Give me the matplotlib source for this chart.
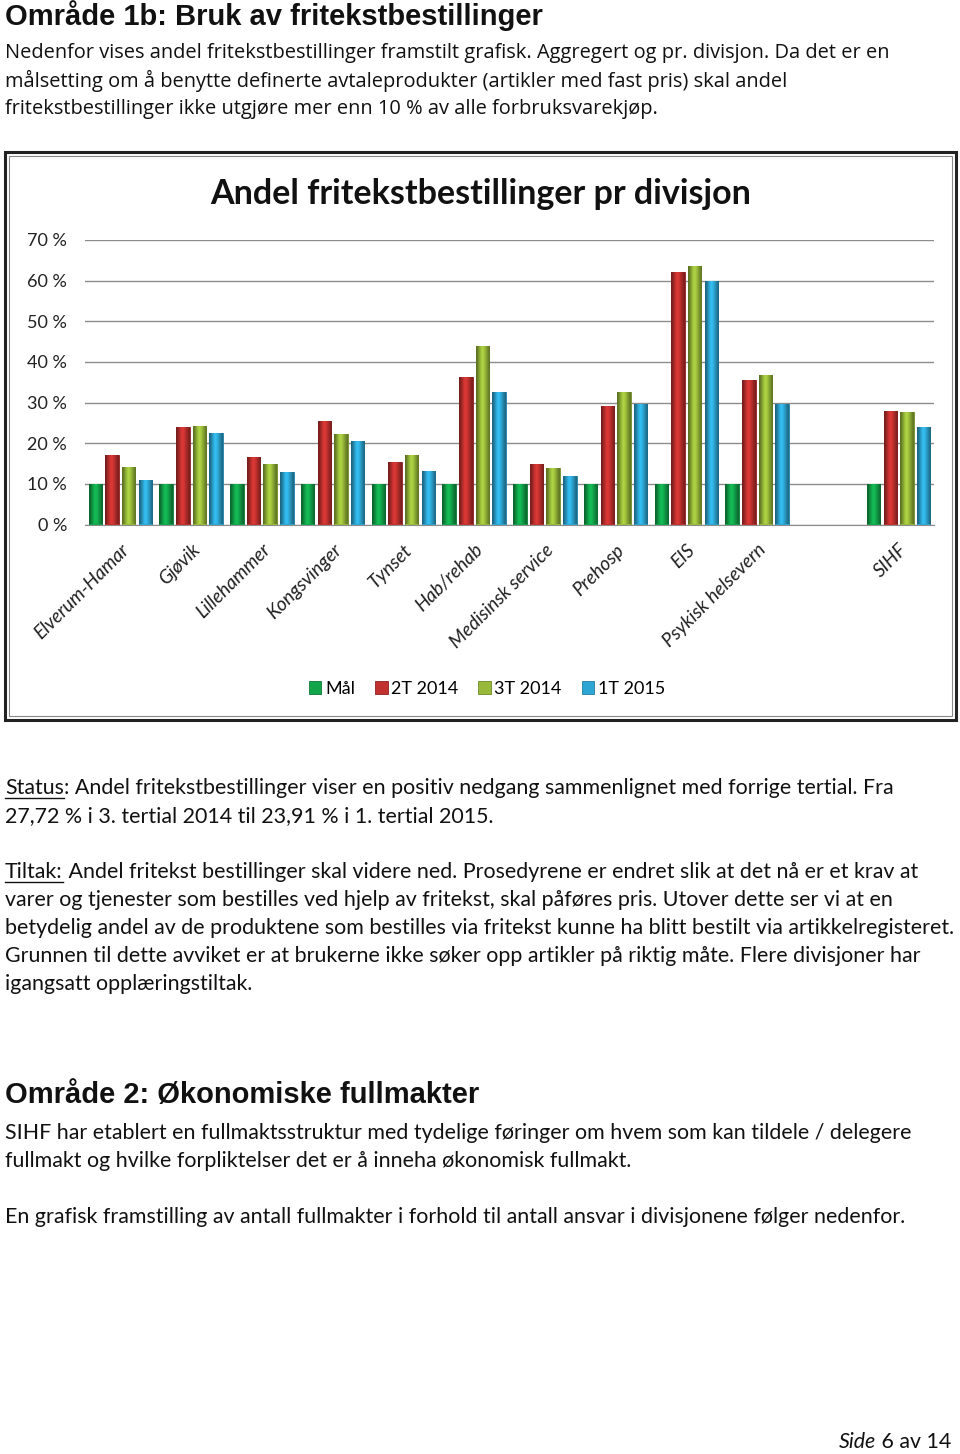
import matplotlib
matplotlib.use('Agg')
import matplotlib.pyplot as plt
import numpy as np
from matplotlib.patches import Rectangle
from matplotlib.lines import Line2D
from matplotlib.colors import to_rgb

# data
divisions = ['Elverum-Hamar', 'Gjøvik', 'Lillehammer', 'Kongsvinger', 'Tynset',
             'Hab/rehab', 'Medisinsk service', 'Prehosp', 'EIS',
             'Psykisk helsevern', '', 'SIHF']
maal = [10, 10, 10, 10, 10, 10, 10, 10, 10, 10, np.nan, 10]
t2_2014 = [17.1, 23.9, 16.5, 25.5, 15.5, 36.3, 14.8, 29.1, 62.1, 35.5, np.nan, 28.0]
t3_2014 = [14.2, 24.2, 15.0, 22.2, 17.1, 43.8, 14.0, 32.7, 63.6, 36.8, np.nan, 27.72]
t1_2015 = [10.9, 22.4, 13.0, 20.6, 13.2, 32.7, 12.0, 29.6, 59.9, 29.6, np.nan, 23.91]
series_names = ['Mål', '2T 2014', '3T 2014', '1T 2015']
series_colors = ['#12a54b', '#c0312f', '#98b93a', '#2da6d3']
edge_colors = ['#0b7a36', '#8e1f1e', '#6f8a25', '#1d7ea3']
y_ticks = [0, 10, 20, 30, 40, 50, 60, 70]

W, H = 960, 1454
fig = plt.figure(figsize=(W / 100, H / 100), dpi=100)
body = 'Lato'
bsize = 15.4


def fx(x):
    return x / W


def fy(y):
    return 1 - y / H


def txt(x, y, s, **kw):
    kw.setdefault('family', body)
    kw.setdefault('size', bsize)
    kw.setdefault('va', 'center')
    kw.setdefault('color', '#111111')
    return fig.text(fx(x), fy(y), s, **kw)


renderer = fig.canvas.get_renderer()


def width_px(t):
    return t.get_window_extent(renderer=renderer).width


def underlined(x, y, word, rest):
    t = txt(x, y, word)
    w = width_px(t)
    fig.add_artist(Line2D([fx(x), fx(x + w)], [fy(y + 10), fy(y + 10)],
                          color='#111111', lw=1))
    txt(x + w, y, rest)


# page text, top part
txt(5, 16, 'Område 1b: Bruk av fritekstbestillinger', family='Liberation Sans',
    weight='bold', size=21)
p1 = ['Nedenfor vises andel fritekstbestillinger framstilt grafisk. Aggregert og pr. divisjon. Da det er en',
      'målsetting om å benytte definerte avtaleprodukter (artikler med fast pris) skal andel',
      'fritekstbestillinger ikke utgjøre mer enn 10 % av alle forbruksvarekjøp.']
for i, line in enumerate(p1):
    txt(5, 53 + 28 * i, line, family='Open Sans', size=14.4)

# chart frame
fig.add_artist(Rectangle((fx(5), fy(720)), fx(951), 568 / H, fill=False,
                         ec='#222222', lw=2.2))
fig.add_artist(Rectangle((fx(9), fy(716)), fx(943), 560 / H, fill=False,
                         ec='#888888', lw=0.8))
txt(481, 194, 'Andel fritekstbestillinger pr divisjon', weight='bold', size=24.5,
    ha='center')

ax = fig.add_axes([fx(85), fy(524.5), (934 - 85) / W, (524.5 - 240) / H])
x = np.arange(len(divisions))
bw = 0.19
pitch = 0.235
bars = []
for k, vals in enumerate([maal, t2_2014, t3_2014, t1_2015]):
    bc = ax.bar(x + (k - 1.5) * pitch, vals, width=bw, color=series_colors[k],
                edgecolor=edge_colors[k], linewidth=0.6, label=series_names[k],
                zorder=3)
    bars.append((k, bc))

# cylinder-like shading on each bar
shade = np.array([0.62, 0.8, 1.0, 1.15, 1.1, 0.95, 0.8, 0.65])
for k, bc in bars:
    base = np.array(to_rgb(series_colors[k]))
    img = np.clip(shade[:, None] * base[None, :], 0, 1)[None, :, :]
    for rect in bc.patches:
        h = rect.get_height()
        if not np.isfinite(h):
            continue
        x0 = rect.get_x()
        im = ax.imshow(img, extent=[x0, x0 + rect.get_width(), 0, h],
                       aspect='auto', interpolation='bilinear', zorder=3.5)
        im.set_clip_path(rect)

ax.set_xlim(-0.5, len(divisions) - 0.5)
ax.set_ylim(0, 70)
ax.set_yticks(y_ticks)
ax.set_yticklabels([f'{v} %' for v in y_ticks], family=body, size=13, color='#222222')
ax.yaxis.grid(True, color='#8c8c8c', lw=1, zorder=0)
for s in ['top', 'right', 'left']:
    ax.spines[s].set_visible(False)
ax.spines['bottom'].set_color('#8c8c8c')
ax.tick_params(axis='y', length=0, pad=13)
ax.tick_params(axis='x', length=0, pad=12)
ax.set_xticks(x)
ax.set_xticklabels(divisions, rotation=45, ha='right', rotation_mode='anchor',
                   family=body, style='italic', size=13.8, color='#222222')

handles, labels = ax.get_legend_handles_labels()
fig.legend(handles, labels, loc='center', bbox_to_anchor=(fx(487), fy(689)),
           ncol=4, frameon=False, prop={'family': body, 'size': 13},
           handlelength=0.7, handleheight=0.7, handletextpad=0.2,
           columnspacing=1.1)

# page text, lower part
underlined(5, 788, 'Status', ': Andel fritekstbestillinger viser en positiv nedgang sammenlignet med forrige tertial. Fra')
txt(5, 816, '27,72 % i 3. tertial 2014 til 23,91 % i 1. tertial 2015.')
underlined(5, 872, 'Tiltak:', ' Andel fritekst bestillinger skal videre ned. Prosedyrene er endret slik at det nå er et krav at')
tiltak = ['varer og tjenester som bestilles ved hjelp av fritekst, skal påføres pris. Utover dette ser vi at en',
          'betydelig andel av de produktene som bestilles via fritekst kunne ha blitt bestilt via artikkelregisteret.',
          'Grunnen til dette avviket er at brukerne ikke søker opp artikler på riktig måte. Flere divisjoner har',
          'igangsatt opplæringstiltak.']
for i, line in enumerate(tiltak):
    txt(5, 900 + 28 * i, line)

txt(5, 1095, 'Område 2: Økonomiske fullmakter', family='Liberation Sans',
    weight='bold', size=21)
txt(5, 1133, 'SIHF har etablert en fullmaktsstruktur med tydelige føringer om hvem som kan tildele / delegere')
txt(5, 1161, 'fullmakt og hvilke forpliktelser det er å inneha økonomisk fullmakt.')
txt(5, 1217, 'En grafisk framstilling av antall fullmakter i forhold til antall ansvar i divisjonene følger nedenfor.')

t_rest = txt(951, 1442, ' 6 av 14', ha='right')
txt(951 - width_px(t_rest), 1442, 'Side', ha='right', style='italic')

fig.savefig('out.png', dpi=100)
